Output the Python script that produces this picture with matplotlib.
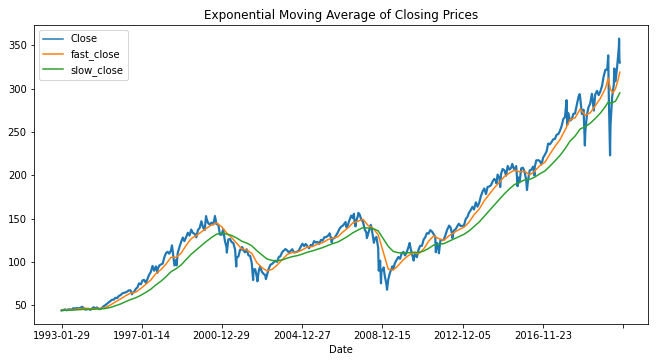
import matplotlib
matplotlib.use('Agg')
import matplotlib.pyplot as plt
import pandas as pd


# ----------- DATA ---------------------------------
# month end closes, Jan 1993 .. Aug 2020
close_monthly = [
    43.94, 44.25, 45.19, 44.03, 45.22, 45.06, 44.84, 46.56, 45.94, 46.84, 46.34, 46.59,
    48.16, 46.94, 44.91, 45.06, 45.81, 44.56, 45.97, 47.59, 46.38, 47.28, 45.56, 45.56,
    47.00, 48.72, 50.09, 51.50, 53.31, 54.59, 56.28, 56.38, 58.53, 58.16, 60.66, 61.48,
    63.53, 64.19, 64.69, 65.72, 67.13, 67.08, 64.23, 65.17, 68.77, 70.52, 75.19, 74.06,
    78.56, 79.22, 75.84, 80.25, 85.16, 88.38, 95.28, 89.75, 94.75, 91.38, 95.66, 97.00,
    98.00, 104.78, 110.03, 111.63, 109.38, 113.31, 112.13, 95.84, 102.20, 110.44, 117.13, 123.31,
    128.02, 123.88, 128.63, 133.56, 130.30, 137.25, 133.33, 132.44, 128.28, 136.58, 139.28, 146.88,
    139.56, 136.66, 150.38, 145.09, 142.81, 145.28, 143.00, 151.98, 143.63, 143.03, 131.55, 131.19,
    136.33, 124.22, 116.69, 125.77, 126.49, 122.90, 121.62, 114.22, 104.44, 106.42, 114.05, 114.30,
    113.19, 110.97, 114.52, 107.49, 106.74, 98.96, 91.16, 91.45, 81.79, 88.66, 93.91, 88.23,
    85.97, 84.66, 84.74, 91.66, 96.46, 97.63, 99.40, 101.18, 99.95, 105.68, 106.44, 111.28,
    113.10, 114.77, 113.10, 110.70, 112.74, 114.53, 110.84, 111.12, 111.77, 113.33, 117.61, 120.87,
    118.16, 120.63, 117.96, 115.75, 119.48, 119.18, 123.92, 122.26, 123.04, 120.71, 125.39, 124.51,
    128.38, 128.51, 129.83, 131.47, 127.51, 127.28, 127.39, 130.58, 133.58, 138.12, 140.49, 141.62,
    144.24, 140.93, 142.00, 148.29, 153.32, 150.43, 145.72, 147.59, 152.58, 154.65, 148.66, 146.21,
    137.37, 133.82, 131.97, 138.26, 140.35, 127.98, 126.83, 128.79, 115.99, 96.83, 89.96, 90.24,
    82.83, 73.93, 79.52, 87.35, 91.94, 91.95, 98.81, 102.46, 105.59, 103.56, 109.94, 111.44,
    107.39, 110.74, 117.00, 118.81, 109.37, 103.22, 110.27, 105.31, 114.13, 118.49, 118.52, 125.75,
    128.68, 133.15, 132.59, 136.58, 134.91, 131.97, 128.68, 121.84, 113.15, 125.50, 124.99, 125.50,
    131.32, 137.02, 140.81, 139.87, 131.47, 136.10, 137.71, 141.16, 143.97, 141.35, 141.45, 142.41,
    149.70, 151.61, 156.67, 159.68, 163.45, 160.42, 168.71, 163.65, 168.01, 175.79, 181.00, 184.69,
    178.18, 186.29, 187.01, 188.31, 192.68, 195.72, 193.09, 200.71, 197.02, 201.66, 207.20, 205.54,
    199.45, 210.66, 206.43, 208.46, 211.14, 205.85, 210.50, 197.67, 191.63, 207.93, 208.69, 203.87,
    193.72, 193.56, 205.52, 206.33, 209.84, 209.48, 217.12, 217.38, 216.30, 212.55, 220.38, 223.53,
    227.53, 236.47, 235.74, 238.08, 241.44, 241.80, 246.77, 247.49, 251.23, 257.15, 265.01, 266.86,
    281.90, 271.65, 263.15, 264.51, 270.94, 271.28, 281.33, 290.31, 290.72, 270.63, 275.65, 249.92,
    269.93, 278.68, 282.48, 294.02, 275.27, 293.00, 297.43, 292.45, 296.77, 303.33, 314.31, 321.86,
    321.73, 296.26, 257.75, 290.48, 304.32, 308.36, 326.52, 349.31,
]

# extra closes in between, highs and lows that show up as spikes
close_extra_dates = [
    '1996-07-24', '1997-10-27', '1998-07-17', '1998-10-08', '2000-03-24', '2000-09-01',
    '2001-01-30', '2001-04-04', '2001-09-21', '2002-01-04', '2002-07-23', '2002-10-09',
    '2002-11-27', '2003-03-11', '2006-05-05', '2006-06-13', '2007-02-20', '2007-03-14',
    '2007-07-19', '2007-08-16', '2007-10-09', '2008-03-10', '2008-05-19', '2008-07-15',
    '2008-10-10', '2008-11-04', '2008-11-20', '2009-01-06', '2009-03-09', '2009-06-12',
    '2010-04-23', '2010-07-02', '2011-04-29', '2011-08-08', '2011-10-03', '2012-04-02',
    '2012-06-01', '2014-08-07', '2014-10-15', '2015-05-21', '2015-08-25', '2016-02-11',
    '2016-06-27', '2018-01-26', '2018-02-08', '2018-09-20', '2018-12-24', '2019-06-03',
    '2020-02-19', '2020-03-23', '2020-06-08', '2020-09-02', '2020-09-08', '2020-09-15',
]
close_extra = [
    62.5, 87.4, 119.0, 96.0, 152.8, 152.9,
    137.8, 110.7, 94.6, 117.2, 79.0, 77.5,
    94.8, 80.0, 132.9, 122.5, 146.0, 139.2,
    155.5, 140.9, 156.5, 127.4, 142.7, 122.0,
    89.8, 101.4, 75.2, 93.5, 67.8, 94.8,
    121.8, 101.5, 136.4, 111.1, 109.9, 141.8,
    127.6, 190.6, 186.4, 213.0, 187.3, 182.9,
    199.6, 286.6, 258.0, 293.6, 234.3, 274.6,
    338.3, 222.9, 323.2, 357.7, 333.2, 330.0,
]

# fast and slow EMA, quarter ends 1993 Q1 .. 2019 Q4
fast_quarterly = [
    44.3, 44.6, 45.2, 45.9, 46.5, 45.8, 46.1, 46.2,
    47.2, 50.2, 53.8, 57.2, 60.9, 64.0, 65.0, 69.3,
    74.1, 79.0, 86.6, 91.1, 97.4, 105.2, 105.2, 110.0,
    119.2, 126.8, 130.3, 134.6, 138.7, 142.5, 144.8, 140.5,
    133.4, 128.0, 121.3, 114.8, 113.7, 109.8, 98.9, 93.3,
    89.5, 91.3, 96.2, 102.5, 108.5, 110.8, 111.3, 113.9,
    117.1, 117.6, 120.4, 122.1, 125.5, 127.6, 128.7, 134.5,
    139.0, 145.0, 146.9, 149.2, 142.0, 138.7, 131.3, 111.3,
    91.5, 90.5, 96.0, 102.6, 107.3, 110.5, 109.1, 114.8,
    123.8, 130.0, 126.8, 124.7, 130.0, 133.8, 137.2, 140.0,
    145.9, 154.4, 160.8, 170.6, 178.0, 185.4, 191.9, 198.6,
    202.5, 206.0, 203.9, 204.4, 200.3, 204.7, 211.1, 214.9,
    224.3, 233.1, 241.1, 252.2, 264.2, 266.1, 276.6, 269.0,
    272.0, 280.2, 288.7, 300.4,
]
slow_quarterly = [
    44.1, 44.2, 44.5, 44.9, 45.3, 45.3, 45.5, 45.7,
    46.1, 47.4, 49.3, 51.4, 54.0, 56.5, 58.5, 61.4,
    64.7, 68.4, 73.4, 77.7, 82.8, 88.6, 92.1, 96.5,
    102.7, 108.8, 113.8, 118.8, 123.6, 128.1, 131.9, 133.0,
    132.0, 130.4, 127.5, 123.8, 121.6, 118.5, 112.8, 107.9,
    103.3, 101.6, 101.3, 102.2, 104.3, 106.0, 107.2, 109.0,
    111.1, 112.6, 114.6, 116.4, 118.8, 121.0, 122.8, 126.1,
    129.5, 133.6, 136.6, 139.6, 139.0, 138.4, 135.8, 126.7,
    117.9, 112.0, 110.5, 110.3, 110.5, 111.0, 110.8, 112.4,
    115.5, 119.4, 120.5, 121.0, 123.7, 126.4, 129.1, 131.8,
    135.7, 140.8, 146.0, 152.6, 159.0, 165.6, 172.1, 178.6,
    184.2, 189.2, 192.0, 194.6, 195.2, 197.8, 201.6, 204.9,
    210.4, 216.4, 222.8, 230.6, 239.4, 245.2, 253.4, 256.0,
    260.0, 265.5, 271.7, 279.4,
]
fast_2020_dates = ['2020-02-19', '2020-03-31', '2020-05-15', '2020-06-30', '2020-08-14', '2020-09-15']
fast_2020 = [312.0, 299.0, 295.0, 300.0, 310.0, 319.0]
slow_2020_dates = ['2020-02-19', '2020-04-15', '2020-06-30', '2020-09-15']
slow_2020 = [284.5, 283.0, 285.5, 295.0]

start_date = '1993-01-29'
start_close = 43.94

tick_dates = ['1993-01-29', '1997-01-14', '2000-12-29', '2004-12-27',
              '2008-12-15', '2012-12-05', '2016-11-23', '2020-11-06']
tick_labels = ['1993-01-29', '1997-01-14', '2000-12-29', '2004-12-27',
               '2008-12-15', '2012-12-05', '2016-11-23', '']


# ----------- BUILD SERIES ------------
def build_close():
    monthly = pd.Series(close_monthly,
                        index=pd.date_range(start_date, periods=len(close_monthly), freq='BME'))
    extra = pd.Series(close_extra, index=pd.to_datetime(close_extra_dates))
    return pd.concat([monthly, extra]).sort_index()


def build_ema(quarterly, late_dates, late_values):
    q_index = pd.date_range('1993-03-31', periods=len(quarterly), freq='QE')
    parts = [pd.Series([start_close], index=pd.to_datetime([start_date])),
             pd.Series(quarterly, index=q_index),
             pd.Series(late_values, index=pd.to_datetime(late_dates))]
    return pd.concat(parts).sort_index()


# ----------- PLOT ------------
def main():
    close = build_close()
    fast_close = build_ema(fast_quarterly, fast_2020_dates, fast_2020)
    slow_close = build_ema(slow_quarterly, slow_2020_dates, slow_2020)

    fig = plt.figure(figsize=(656 / 72, 362 / 72), dpi=72)
    ax = fig.add_axes([33.7 / 656, 1 - 324 / 362, 614 / 656, 299 / 362])

    # daily noise makes the real Close line look thicker
    ax.plot(close.index, close.values, color='#1f77b4', lw=2.2, label='Close')
    ax.plot(fast_close.index, fast_close.values, color='#ff7f0e', lw=1.5, label='fast_close')
    ax.plot(slow_close.index, slow_close.values, color='#2ca02c', lw=1.5, label='slow_close')

    ax.set_xticks(pd.to_datetime(tick_dates))
    ax.set_xticklabels(tick_labels)
    ax.set_xlabel('Date')
    ax.set_title('Exponential Moving Average of Closing Prices')
    leg = ax.legend(loc='upper left')
    for line in leg.get_lines():
        line.set_linewidth(1.5)

    fig.savefig('out.png', dpi=72)


if __name__ == '__main__':
    main()
